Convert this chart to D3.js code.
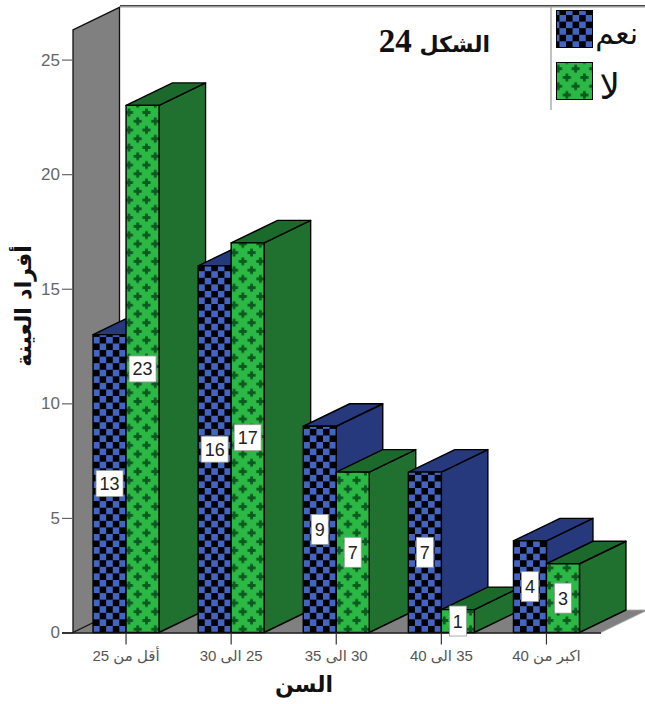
<!DOCTYPE html>
<html>
<head>
<meta charset="utf-8">
<script src="https://cdn.jsdelivr.net/npm/d3@7/dist/d3.min.js"></script>
<style>
  html, body { margin: 0; padding: 0; background: #fff; }
  svg { display: block; }
</style>
</head>
<body>
<svg id="chart" width="645" height="704"></svg>
<script>
// Survey respondents by age group and yes/no answer
const categories = ["أقل من 25", "25 الى 30", "30 الى 35", "35 الى 40", "اكبر من 40"];
const seriesNames = ["نعم", "لا"];
const yesValues = [13, 16, 9, 7, 4];
const noValues = [23, 17, 7, 1, 3];
const yTicks = [0, 5, 10, 15, 20, 25];
const yDomainMax = 26.3;
const titleWord = "الشكل";
const titleNumber = "24";
const xTitle = "السن";
const yTitle = "أفراد العينة";

const svg = d3.select("#chart");
const arabicFont = "'DejaVu Sans', sans-serif";
const latinFont = "'Liberation Sans', Arial, sans-serif";

// Oblique projection offset for the 3D depth of bars, wall and floor
const depth = { x: 46.5, y: -22.5 };

const y = d3.scaleLinear().domain([0, yDomainMax]).range([632.5, 29.8]);
const x = d3.scaleBand().domain(categories).range([73.5, 599]).paddingInner(0).paddingOuter(0);
const inner = d3.scaleBand().domain(seriesNames).range([-33, 33]);

const frontLeft = x.range()[0] - 0.5;
const floorRight = 601;

// Fill patterns
const defs = svg.append("defs");
const cell = x.bandwidth() / 16;
const checker = defs.append("pattern")
  .attr("id", "checker").attr("patternUnits", "userSpaceOnUse")
  .attr("x", x(categories[0]) + x.bandwidth() / 2 - 33).attr("y", y(0))
  .attr("width", cell * 2).attr("height", cell * 2);
checker.append("rect").attr("width", cell * 2).attr("height", cell * 2).attr("fill", "#000");
checker.append("rect").attr("x", cell).attr("y", 0).attr("width", cell).attr("height", cell).attr("fill", "#4264c2");
checker.append("rect").attr("x", 0).attr("y", cell).attr("width", cell).attr("height", cell).attr("fill", "#4264c2");

const tile = x.bandwidth() / 6;
const plusTile = defs.append("pattern")
  .attr("id", "plus").attr("patternUnits", "userSpaceOnUse")
  .attr("x", x(categories[0]) + x.bandwidth() / 2 + 7.3 - tile / 2).attr("y", 113 - tile / 4 - 0.5)
  .attr("width", tile).attr("height", tile);
plusTile.append("rect").attr("width", tile).attr("height", tile).attr("fill", "#2bb845");
[[tile / 4, tile / 4], [tile * 3 / 4, tile * 3 / 4]].forEach(([cx, cy]) => {
  plusTile.append("path")
    .attr("d", `M${cx - 4},${cy}H${cx + 4}M${cx},${cy - 4}V${cy + 4}`)
    .attr("stroke", "#0b5a20").attr("stroke-width", 2.8).attr("fill", "none");
});

const poly = pts => "M" + pts.map(p => p.join(",")).join("L") + "Z";

// Back plane edges
svg.append("path").attr("d", `M120,6.5H645`).attr("stroke", "#999").attr("stroke-width", 2).attr("fill", "none");
svg.append("path").attr("d", `M120,5.5H645`).attr("stroke", "#222").attr("stroke-width", 0.8).attr("fill", "none");

// Side wall and floor
const wallTop = y(yDomainMax);
svg.append("path")
  .attr("d", poly([[frontLeft, wallTop], [frontLeft + depth.x, wallTop + depth.y],
                   [frontLeft + depth.x, y(0) + depth.y], [frontLeft, y(0)]]))
  .attr("fill", "#808080").attr("stroke", "#111").attr("stroke-width", 1.3);
svg.append("path")
  .attr("d", poly([[frontLeft, y(0)], [frontLeft + depth.x, y(0) + depth.y],
                   [floorRight + depth.x, y(0) + depth.y], [floorRight, y(0)]]))
  .attr("fill", "#808080").attr("stroke", "#aaa").attr("stroke-width", 0.8);
svg.append("path")
  .attr("d", `M${frontLeft},${y(0)}L${frontLeft + depth.x},${y(0) + depth.y}`)
  .attr("stroke", "#111").attr("stroke-width", 1.3);

// Legend divider
svg.append("path").attr("d", "M551,7V110").attr("stroke", "#999").attr("stroke-width", 1.2);

// Bars, drawn from left to right so that nearer faces overlap correctly
const styles = {
  [seriesNames[0]]: { front: "url(#checker)", side: "#25397c", top: "#25397c" },
  [seriesNames[1]]: { front: "url(#plus)", side: "#20702f", top: "#1c6a2b" }
};
const rows = categories.flatMap((c, i) => [
  { category: c, series: seriesNames[0], value: yesValues[i] },
  { category: c, series: seriesNames[1], value: noValues[i] }
]);
const barLeft = d => x(d.category) + x.bandwidth() / 2 + inner(d.series);
const barRight = d => barLeft(d) + inner.bandwidth();

const bars = svg.append("g").selectAll("g").data(rows).join("g")
  .attr("stroke", "#000").attr("stroke-width", 1.4).attr("stroke-linejoin", "round");
bars.append("path")
  .attr("d", d => poly([[barRight(d), y(d.value)], [barRight(d) + depth.x, y(d.value) + depth.y],
                        [barRight(d) + depth.x, y(0) + depth.y], [barRight(d), y(0)]]))
  .attr("fill", d => styles[d.series].side);
bars.append("path")
  .attr("d", d => poly([[barLeft(d), y(d.value)], [barLeft(d) + depth.x, y(d.value) + depth.y],
                        [barRight(d) + depth.x, y(d.value) + depth.y], [barRight(d), y(d.value)]]))
  .attr("fill", d => styles[d.series].top);
bars.append("rect")
  .attr("x", barLeft).attr("y", d => y(d.value))
  .attr("width", inner.bandwidth()).attr("height", d => y(0) - y(d.value))
  .attr("fill", d => styles[d.series].front);

// Axes
const axisY = svg.append("g").attr("transform", `translate(${frontLeft},0)`)
  .call(d3.axisLeft(y).tickValues(yTicks).tickSize(11).tickPadding(2).tickFormat(d3.format("d")));
axisY.select(".domain").remove();
axisY.selectAll("line").attr("stroke", "#666").attr("stroke-width", 1.2);
axisY.selectAll("text").attr("font-family", latinFont).attr("font-size", 17).attr("fill", "#666");

const axisX = svg.append("g").attr("transform", `translate(0,${y(0)})`)
  .call(d3.axisBottom(x).tickSize(12).tickPadding(6));
axisX.select(".domain").attr("d", `M62,0.5H${floorRight}`).attr("stroke", "#111").attr("stroke-width", 1.4);
axisX.selectAll("line").attr("stroke", "#333").attr("stroke-width", 1.2);
axisX.selectAll("text")
  .attr("font-family", latinFont + ", " + arabicFont).attr("font-size", 15).attr("fill", "#555")
  .attr("direction", "rtl");

// Value labels on white tags at mid-height of each bar
const labels = svg.append("g").selectAll("g").data(rows).join("g")
  .attr("transform", d => `translate(${(barLeft(d) + barRight(d)) / 2},${(y(d.value) + y(0)) / 2})`);
labels.append("rect")
  .attr("x", d => d.value >= 10 ? -13.5 : -8.5)
  .attr("y", d => d.value >= 10 ? -13 : -15)
  .attr("width", d => d.value >= 10 ? 27 : 17)
  .attr("height", d => d.value >= 10 ? 26 : 30)
  .attr("fill", "#fff").attr("stroke", "#999").attr("stroke-width", 0.8);
labels.append("text")
  .attr("text-anchor", "middle").attr("dy", "0.36em")
  .attr("font-family", latinFont).attr("font-size", 18).attr("fill", "#222")
  .text(d => d.value);

// Legend
const legend = svg.append("g").selectAll("g").data(seriesNames).join("g");
legend.append("rect")
  .attr("x", 556.5).attr("y", (d, i) => 10.5 + i * 52)
  .attr("width", 36).attr("height", 37)
  .attr("fill", d => styles[d].front).attr("stroke", "#000").attr("stroke-width", 1);
legend.append("text")
  .attr("x", (d, i) => [638, 620][i]).attr("y", (d, i) => [44, 99][i])
  .attr("text-anchor", "start").attr("direction", "rtl")
  .attr("font-family", arabicFont).attr("font-size", (d, i) => [30, 36][i]).attr("fill", "#111")
  .text(d => d);

// Titles
const title = svg.append("text").attr("x", 490).attr("y", 52)
  .attr("text-anchor", "start").attr("direction", "rtl")
  .attr("font-weight", "bold").attr("fill", "#111");
title.append("tspan").attr("font-family", arabicFont).attr("font-size", 22).text(titleWord + " ");
title.append("tspan").attr("font-family", "'Liberation Serif', serif").attr("font-size", 33).text(titleNumber);
svg.append("text").attr("x", 304).attr("y", 692)
  .attr("text-anchor", "middle").attr("direction", "rtl")
  .attr("font-family", arabicFont).attr("font-weight", "bold")
  .attr("font-size", 22).attr("fill", "#111").text(xTitle);
svg.append("text").attr("transform", "translate(31,306) rotate(-90)")
  .attr("text-anchor", "middle").attr("direction", "rtl")
  .attr("font-family", arabicFont).attr("font-weight", "bold")
  .attr("font-size", 22).attr("fill", "#111").text(yTitle);
</script>
</body>
</html>
